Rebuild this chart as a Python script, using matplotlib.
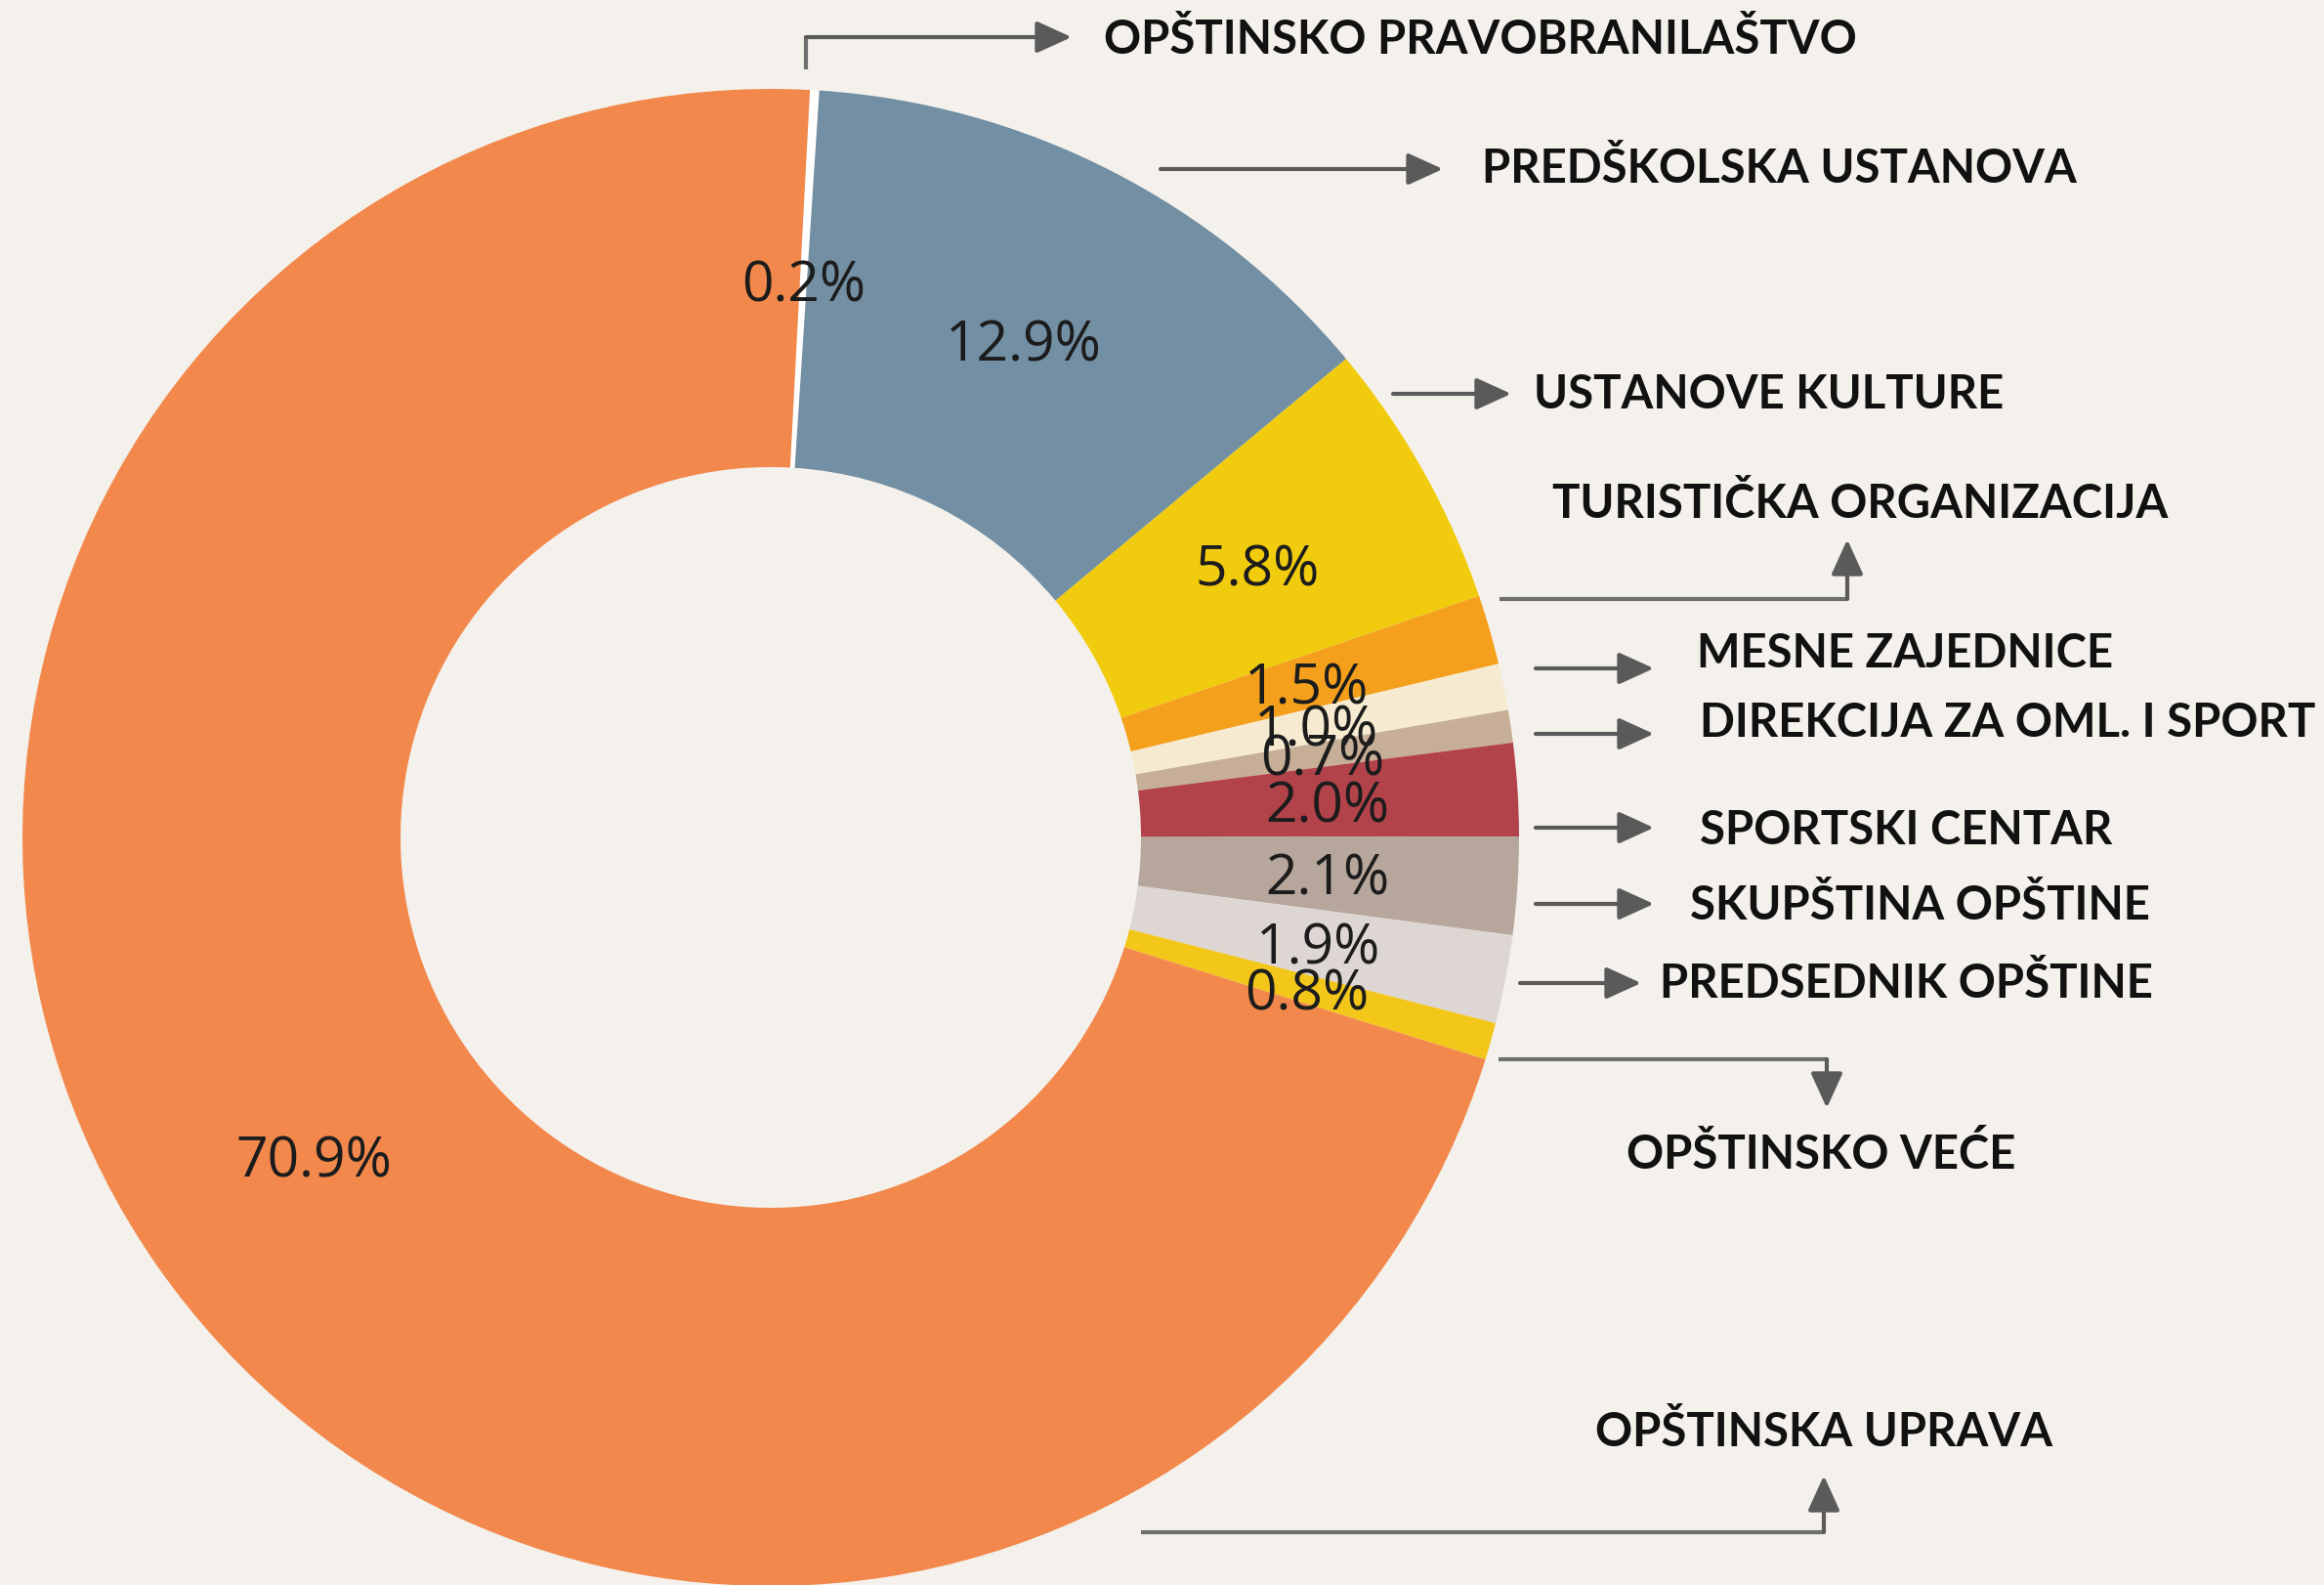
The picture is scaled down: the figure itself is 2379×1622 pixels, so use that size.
import matplotlib
matplotlib.use('Agg')
import matplotlib.pyplot as plt

# shares of the budget, clockwise from the top of the ring
names = ['OPŠTINSKO PRAVOBRANILAŠTVO', 'PREDŠKOLSKA USTANOVA', 'USTANOVE KULTURE',
         'TURISTIČKA ORGANIZACIJA', 'MESNE ZAJEDNICE', 'DIREKCIJA ZA OML. I SPORT',
         'SPORTSKI CENTAR', 'SKUPŠTINA OPŠTINE', 'PREDSEDNIK OPŠTINE',
         'OPŠTINSKO VEĆE', 'OPŠTINSKA UPRAVA']
shares = [0.2, 12.9, 5.8, 1.5, 1.0, 0.7, 2.0, 2.1, 1.9, 0.8, 70.9]
colors = ['#ffffff', '#728fa3', '#f1cb0e', '#f4a01c', '#f6ebd1', '#c6ae97',
          '#b2434a', '#b6a69b', '#ddd6d3', '#f3c61a', '#f2884b']

W, H = 2379, 1622
BG = '#f4f1ec'

# label anchors (left x, middle y) in image pixels, y down
label_pos = [(1130, 41), (1517, 173), (1570, 404), (1589, 516), (1737, 669),
             (1740, 740), (1740, 850), (1730, 927), (1699, 1007),
             (1665, 1181), (1633, 1466)]
# connector paths, last point is the arrow tip
arrows = [
    [(825, 71), (825, 38), (1097, 38)],
    [(1188, 173), (1477, 173)],
    [(1426, 403), (1547, 403)],
    [(1535, 613), (1891, 613), (1891, 552)],
    [(1572, 684), (1693, 684)],
    [(1572, 751), (1693, 751)],
    [(1572, 847), (1693, 847)],
    [(1572, 925), (1693, 925)],
    [(1556, 1006), (1680, 1006)],
    [(1534, 1084), (1870, 1084), (1870, 1134)],
    [(1168, 1568), (1867, 1568), (1867, 1510)],
]


def up(p):
    return (p[0], H - p[1])


fig = plt.figure(figsize=(W / 100, H / 100), dpi=100, facecolor=BG)
ax = fig.add_axes([0, 0, 1, 1])
ax.set_facecolor(BG)

vals = iter(shares)
R = 766
wedges, texts, pcts = ax.pie(
    shares, colors=colors, startangle=87, counterclock=False,
    center=(789, H - 857), radius=R,
    wedgeprops=dict(width=387, linewidth=0),
    autopct=lambda p: '%.1f%%' % next(vals), pctdistance=0.745,
    textprops=dict(fontsize=41, family=['Open Sans', 'DejaVu Sans'], color='#1c1c1c'))

# nudge the percentages a little lower, as in the original
for t in pcts:
    x, y = t.get_position()
    t.set_position((x, y - 7))

for name, pos in zip(names, label_pos):
    x, y = up(pos)
    ax.text(x, y, name, fontsize=34, fontweight='bold', color='#111111',
            family=['Lato', 'DejaVu Sans'], ha='left', va='center')

for path in arrows:
    pts = [up(p) for p in path]
    if len(pts) > 2:
        ax.plot([p[0] for p in pts[:-1]], [p[1] for p in pts[:-1]],
                color='#6e6e6e', lw=3, solid_capstyle='butt')
    ax.annotate('', xy=pts[-1], xytext=pts[-2],
                arrowprops=dict(arrowstyle='-|>,head_length=1.1,head_width=0.5',
                                mutation_scale=20, color='#5a5a5a', lw=3,
                                shrinkA=0, shrinkB=0))

ax.set_xlim(0, W)
ax.set_ylim(0, H)
ax.set_aspect('equal')
ax.axis('off')

fig.savefig('out.png', dpi=100, facecolor=BG)
